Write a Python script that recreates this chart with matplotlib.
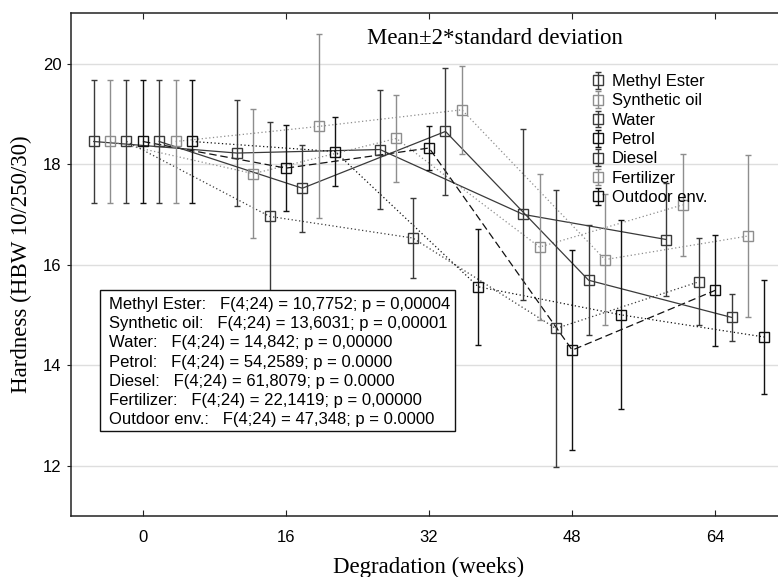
#!/usr/bin/env python3
"""Hardness vs degradation time, mean +/- 2 SD per medium."""

import matplotlib

matplotlib.use("Agg")
import matplotlib.pyplot as plt
from matplotlib.patches import Rectangle

WEEKS = [0, 16, 32, 48, 64]

LABELS = ["Methyl Ester", "Synthetic oil", "Water", "Petrol",
          "Diesel", "Fertilizer", "Outdoor env."]

# means (HBW) and 2*SD half-widths
methyl_ester = [18.45, 18.22, 18.29, 17.00, 16.50]
methyl_ester_err = [1.23, 1.06, 1.18, 1.70, 1.13]
synthetic_oil = [18.45, 17.81, 18.51, 16.35, 17.19]
synthetic_oil_err = [1.23, 1.28, 0.87, 1.45, 1.02]
water = [18.45, 16.96, 16.53, 14.73, 15.66]
water_err = [1.23, 1.88, 0.80, 2.76, 0.87]
petrol = [18.45, 17.92, 18.32, 14.30, 15.49]
petrol_err = [1.23, 0.85, 0.44, 1.99, 1.10]
diesel = [18.45, 17.52, 18.65, 15.69, 14.95]
diesel_err = [1.23, 0.87, 1.27, 1.09, 0.47]
fertilizer = [18.45, 18.75, 19.08, 16.10, 16.57]
fertilizer_err = [1.23, 1.83, 0.87, 1.30, 1.61]
outdoor = [18.45, 18.25, 15.56, 15.00, 14.56]
outdoor_err = [1.23, 0.68, 1.15, 1.88, 1.14]

STATS = [
    "Methyl Ester:   F(4;24) = 10,7752; p = 0,00004",
    "Synthetic oil:   F(4;24) = 13,6031; p = 0,00001",
    "Water:   F(4;24) = 14,842; p = 0,00000",
    "Petrol:   F(4;24) = 54,2589; p = 0.0000",
    "Diesel:   F(4;24) = 61,8079; p = 0.0000",
    "Fertilizer:   F(4;24) = 22,1419; p = 0,00000",
    "Outdoor env.:   F(4;24) = 47,348; p = 0.0000",
]

SERIF = "Liberation Serif"
SANS = "Liberation Sans"


def main() -> None:
    means = [methyl_ester, synthetic_oil, water, petrol, diesel, fertilizer, outdoor]
    errs = [methyl_ester_err, synthetic_oil_err, water_err, petrol_err,
            diesel_err, fertilizer_err, outdoor_err]
    # styling per series: marker/bar colour, line style
    dark, black, grey = "#3a3a3a", "#111111", "#8e8e8e"
    colors = [dark, grey, dark, black, dark, grey, black]
    styles = ["-", (0, (1, 2)), (0, (1, 2)), (0, (6, 3)), "-", (0, (1, 2)), (0, (1, 2))]
    dodge = 1.83  # weeks between neighbouring groups

    plt.rcParams["font.family"] = SANS
    fig = plt.figure(figsize=(7.78, 5.77), dpi=100)
    ax = fig.add_axes([71.3 / 778, 1 - 516 / 577, (778 - 71.3) / 778, (516 - 13.3) / 577])

    for i, (name, y, e) in enumerate(zip(LABELS, means, errs)):
        x = [w + (i - 3) * dodge for w in WEEKS]
        ax.plot(x, y, linestyle=styles[i], color=colors[i], linewidth=0.9, zorder=2)
        ax.errorbar(x, y, yerr=e, fmt="s", linestyle="none", color=colors[i],
                    mfc="none", mec=colors[i], ms=7, mew=1.0, elinewidth=1.0,
                    capsize=2, capthick=1.0, label=name, zorder=3)

    ax.set_xlim(-8, 71)
    ax.set_ylim(11, 21)
    ax.set_xticks(WEEKS)
    ax.set_yticks([12, 14, 16, 18, 20])
    ax.yaxis.grid(True, color="#dedede", linewidth=1.0)
    ax.set_axisbelow(True)

    ax.spines["right"].set_visible(False)
    for side in ("left", "top", "bottom"):
        ax.spines[side].set_color("#222222")
        ax.spines[side].set_linewidth(1.1)
    ax.tick_params(axis="x", direction="in", top=True, length=4, pad=10,
                   labelsize=12, color="#222222")
    ax.tick_params(axis="y", direction="out", length=3, pad=4,
                   labelsize=12, color="#222222")

    ax.set_xlabel("Degradation (weeks)", family=SERIF, fontsize=16.5)
    ax.xaxis.set_label_coords(0.506, -0.082)
    ax.set_ylabel("Hardness (HBW 10/250/30)", family=SERIF, fontsize=16.5)
    ax.yaxis.set_label_coords(-0.056, 0.5)

    ax.text(0.599, 0.95, "Mean\u00b12*standard deviation", transform=ax.transAxes,
            family=SERIF, fontsize=16.5, ha="center", va="center")

    ax.legend(loc="upper left", bbox_to_anchor=(0.715, 0.909), frameon=False,
              fontsize=12, handlelength=0.8, handletextpad=0.4, labelspacing=0.26,
              borderpad=0.4)

    # statistics box
    ax.add_patch(Rectangle((0.0402, 0.1683), 0.5033, 0.2813, transform=ax.transAxes,
                           facecolor="white", edgecolor="#111111", linewidth=1.0,
                           zorder=5))
    for j, line in enumerate(STATS):
        ax.text(0.0538, 0.4209 - j * 0.0382, line, transform=ax.transAxes,
                fontsize=12, ha="left", va="center", zorder=6)

    fig.savefig("out.png", dpi=100)
    plt.close(fig)


if __name__ == "__main__":
    main()
